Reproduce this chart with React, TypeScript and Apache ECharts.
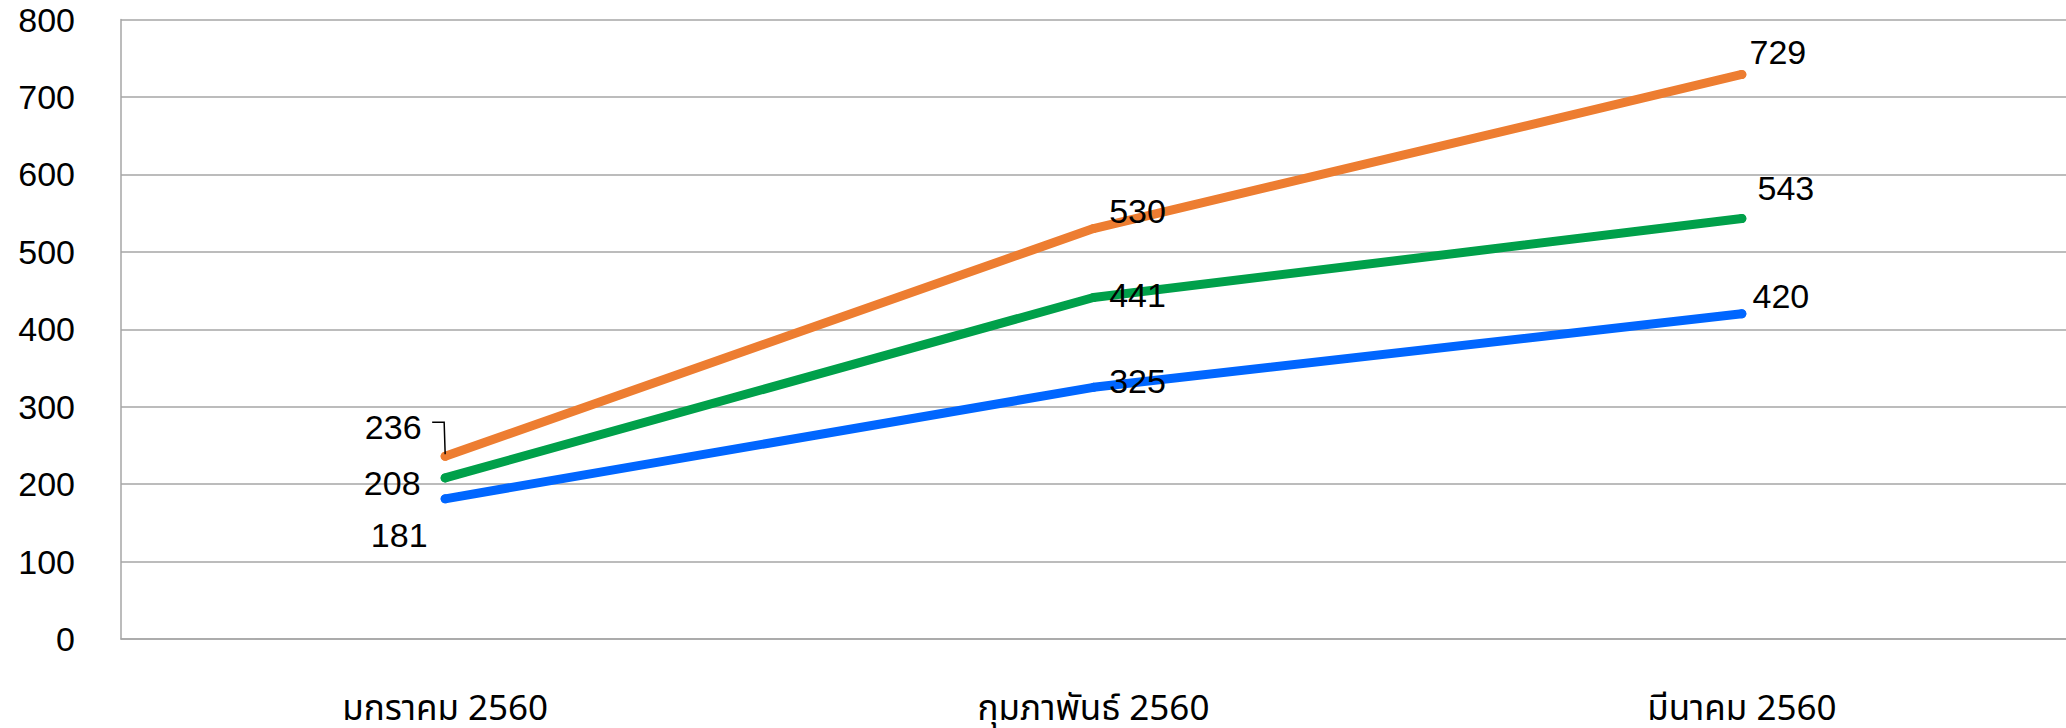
import React, { useEffect, useRef } from "react";
import * as echarts from "echarts";

const categories = ["มกราคม 2560", "กุมภาพันธ์ 2560", "มีนาคม 2560"];
const seriesOrange = [236, 530, 729];
const seriesGreen = [208, 441, 543];
const seriesBlue = [181, 325, 420];
const yTicks = [0, 100, 200, 300, 400, 500, 600, 700, 800];

const FONT = "'Noto Sans', 'Noto Sans Thai', Tahoma, sans-serif";
const NUM_FONT = "'Liberation Sans', 'Noto Sans', sans-serif";

type Off = [number, number];
const orangeOffsets: Off[] = [[-52, -29], [44, -18], [36, -22]];
const greenOffsets: Off[] = [[-53, 5], [44, -3], [44, -31]];
const blueOffsets: Off[] = [[-46, 36], [44, -6], [39, -18]];

function makeSeries(name: string, values: number[], color: string, offsets: Off[]) {
  return {
    type: "line",
    name,
    data: values.map((v, i) => ({
      value: v,
      label: {
        show: true,
        position: "inside",
        align: "center",
        verticalAlign: "middle",
        offset: offsets[i],
        color: "#000",
        fontSize: 34,
        fontFamily: NUM_FONT,
      },
    })),
    symbol: "circle",
    symbolSize: 9,
    showSymbol: true,
    itemStyle: { color },
    lineStyle: { color, width: 9, cap: "round", join: "round" },
    z: 3,
  };
}

export default function App() {
  const ref = useRef<HTMLDivElement>(null);
  useEffect(() => {
    document.body.style.margin = "0";
    const chart = echarts.init(ref.current!, undefined, { renderer: "svg" });
    const option: any = {
      animation: false,
      backgroundColor: "#fff",
      grid: { left: 121, right: -5, top: 19.5, bottom: 89, containLabel: false },
      xAxis: {
        type: "category",
        data: categories,
        boundaryGap: true,
        axisLine: { show: true, lineStyle: { color: "#A6A6A6", width: 1.5 } },
        axisTick: { show: false },
        axisLabel: {
          color: "#000",
          fontSize: 35,
          fontFamily: FONT,
          margin: 50,
          lineHeight: 34,
          interval: 0,
        },
      },
      yAxis: {
        type: "value",
        min: yTicks[0],
        max: yTicks[yTicks.length - 1],
        interval: 100,
        axisLine: { show: true, lineStyle: { color: "#A6A6A6", width: 1.5 } },
        axisTick: { show: false },
        splitLine: { show: true, lineStyle: { color: "#A6A6A6", width: 1.5 } },
        axisLabel: {
          color: "#000",
          fontSize: 34,
          fontFamily: NUM_FONT,
          margin: 46,
          lineHeight: 30,
          padding: [6, 0, 0, 0],
        },
      },
      series: [
        makeSeries("ชุดที่ 1", seriesOrange, "#ED7D31", orangeOffsets),
        makeSeries("ชุดที่ 2", seriesGreen, "#00A04A", greenOffsets),
        makeSeries("ชุดที่ 3", seriesBlue, "#0066FF", blueOffsets),
      ],
    };
    chart.setOption(option);
    const p = chart.convertToPixel({ gridIndex: 0 }, [0, seriesOrange[0]]) as number[];
    chart.setOption({
      graphic: [
        {
          type: "polyline",
          shape: {
            points: [
              [p[0] - 13, p[1] - 34],
              [p[0] - 1, p[1] - 34],
              [p[0], p[1] - 2],
            ],
          },
          style: { stroke: "#000", lineWidth: 1.5, fill: "none" },
          z: 10,
        },
      ],
    });
    return () => chart.dispose();
  }, []);
  return <div ref={ref} style={{ width: 2066, height: 728 }} />;
}
